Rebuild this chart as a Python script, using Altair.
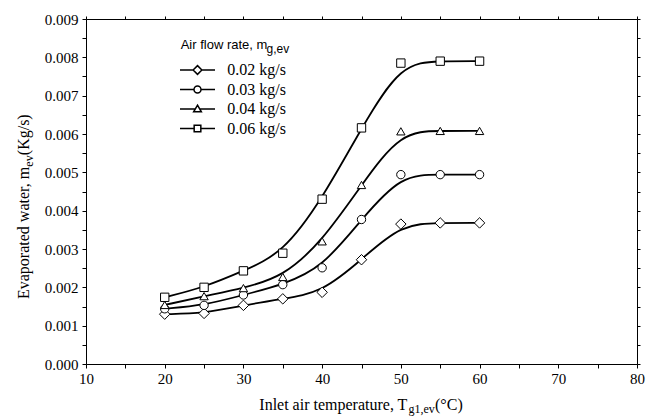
import altair as alt
import pandas as pd

# ---- data ----
temps = [20, 25, 30, 35, 40, 45, 50, 55, 60]
flow_labels = ["0.02 kg/s", "0.03 kg/s", "0.04 kg/s", "0.06 kg/s"]
evap_002 = [0.00130, 0.00132, 0.00153, 0.00170, 0.00187, 0.00272, 0.00365, 0.00368, 0.00368]
evap_003 = [0.00144, 0.00153, 0.00180, 0.00207, 0.00251, 0.00377, 0.00494, 0.00494, 0.00494]
evap_004 = [0.00154, 0.00177, 0.00198, 0.00227, 0.00320, 0.00467, 0.00607, 0.00608, 0.00608]
evap_006 = [0.00174, 0.00200, 0.00243, 0.00289, 0.00430, 0.00616, 0.00785, 0.00790, 0.00790]

x_ticks = list(range(10, 81, 5))
y_ticks = [round(i * 0.0005, 4) for i in range(19)]

rows = []
for label, vals in zip(flow_labels, [evap_002, evap_003, evap_004, evap_006]):
    for t, v in zip(temps, vals):
        rows.append({"T": t, "m": v, "series": label})
df = pd.DataFrame(rows)

serif = "Liberation Serif"
sans = "Liberation Sans"

xscale = alt.Scale(domain=[10, 80], nice=False, zero=False)
yscale = alt.Scale(domain=[0, 0.009], nice=False)

common = dict(grid=False, title=None, domainColor="black", domainWidth=1,
              tickColor="black", tickWidth=1, labelFont=serif, labelFontSize=15,
              labelColor="black", labelOverlap=False, labelFlush=False)

xaxis = alt.Axis(values=x_ticks, tickSize=4, labelPadding=3,
                 labelExpr="datum.value % 10 == 0 ? datum.label : ''", **common)
yaxis = alt.Axis(values=y_ticks, tickSize=4, labelPadding=4,
                 labelExpr="round(datum.value * 2000) % 2 == 0 ? format(datum.value, '.3f') : ''",
                 **common)
top_axis = alt.Axis(orient="top", values=x_ticks, labels=False, tickSize=3,
                    grid=False, title=None, domainColor="black", tickColor="black")
right_axis = alt.Axis(orient="right", values=y_ticks, labels=False, tickSize=3,
                      grid=False, title=None, domainColor="black", tickColor="black")

plot_shapes = ["M0,-1.25L1.25,0L0,1.25L-1.25,0Z", "circle", "triangle-up", "square"]
legend_shapes = [
    "M-5,0L-1.25,0M1.25,0L5,0M0,-1.25L1.25,0L0,1.25L-1.25,0Z",
    "M-5,0L-1,0M1,0L5,0M-1,0A1,1,0,1,0,1,0A1,1,0,1,0,-1,0Z",
    "M-5,0L-0.6,0M0.6,0L5,0M0,-1.1L1.1,0.8L-1.1,0.8Z",
    "M-5,0L-0.95,0M0.95,0L5,0M-0.95,-0.95L0.95,-0.95L0.95,0.95L-0.95,0.95Z",
]

lines = alt.Chart(df).mark_line(interpolate="basis", color="black", strokeWidth=1.8).encode(
    x=alt.X("T:Q", scale=xscale, axis=xaxis),
    y=alt.Y("m:Q", scale=yscale, axis=yaxis),
    detail="series:N",
)

points = alt.Chart(df).mark_point(filled=True, fill="white", stroke="black",
                                  strokeWidth=1, size=70, opacity=1).encode(
    x=alt.X("T:Q", scale=xscale, axis=None),
    y=alt.Y("m:Q", scale=yscale, axis=None),
    shape=alt.Shape("series:N", scale=alt.Scale(domain=flow_labels, range=plot_shapes), legend=None),
)

frame = alt.Chart(df).mark_point(opacity=0, color="black", strokeWidth=1.5, filled=False).encode(
    x=alt.X("T:Q", scale=xscale, axis=top_axis),
    y=alt.Y("m:Q", scale=yscale, axis=right_axis),
    shape=alt.Shape("series:N", scale=alt.Scale(domain=flow_labels, range=legend_shapes),
                    legend=alt.Legend(orient="none", legendX=103.5, legendY=43, title=None,
                                      padding=0, symbolSize=49, symbolStrokeWidth=1.5,
                                      symbolStrokeColor="black", symbolFillColor="white",
                                      symbolOpacity=1, labelFont=serif, labelFontSize=16,
                                      labelColor="black", labelOffset=21.8, rowPadding=3.5,
                                      labelBaseline="middle")),
)


def txt(text, x, y, size, font, angle=0):
    return alt.Chart(alt.Data(values=[{}])).mark_text(
        text=text, font=font, fontSize=size, align="left", baseline="alphabetic",
        angle=angle, color="black").encode(x=alt.value(x), y=alt.value(y))


texts = [
    # legend title
    txt("Air flow rate, m", 94.7, 30.3, 13, sans),
    txt("g,ev", 180.5, 34, 12, sans),
    # x title
    txt("Inlet air temperature, T", 173.3, 391, 16, serif),
    txt("g1,ev", 322.5, 394, 12, serif),
    txt("(°C)", 349, 391, 16, serif),
    # y title
    txt("Evaporated water, m", -57, 280, 16, serif, 270),
    txt("ev", -53, 147.7, 12, serif, 270),
    txt("(Kg/s)", -57, 136.2, 16, serif, 270),
]

chart = alt.layer(lines, points, frame, *texts).resolve_scale(
    shape="independent"
).resolve_axis(
    x="independent", y="independent"
).properties(
    width=551, height=345,
    autosize=alt.AutoSizeParams(type="none"),
    padding={"left": 78, "top": 11, "right": 10, "bottom": 54},
).configure_view(stroke=None).configure(background="white")

chart.save("out.html", embed_options={"renderer": "svg", "actions": False})
